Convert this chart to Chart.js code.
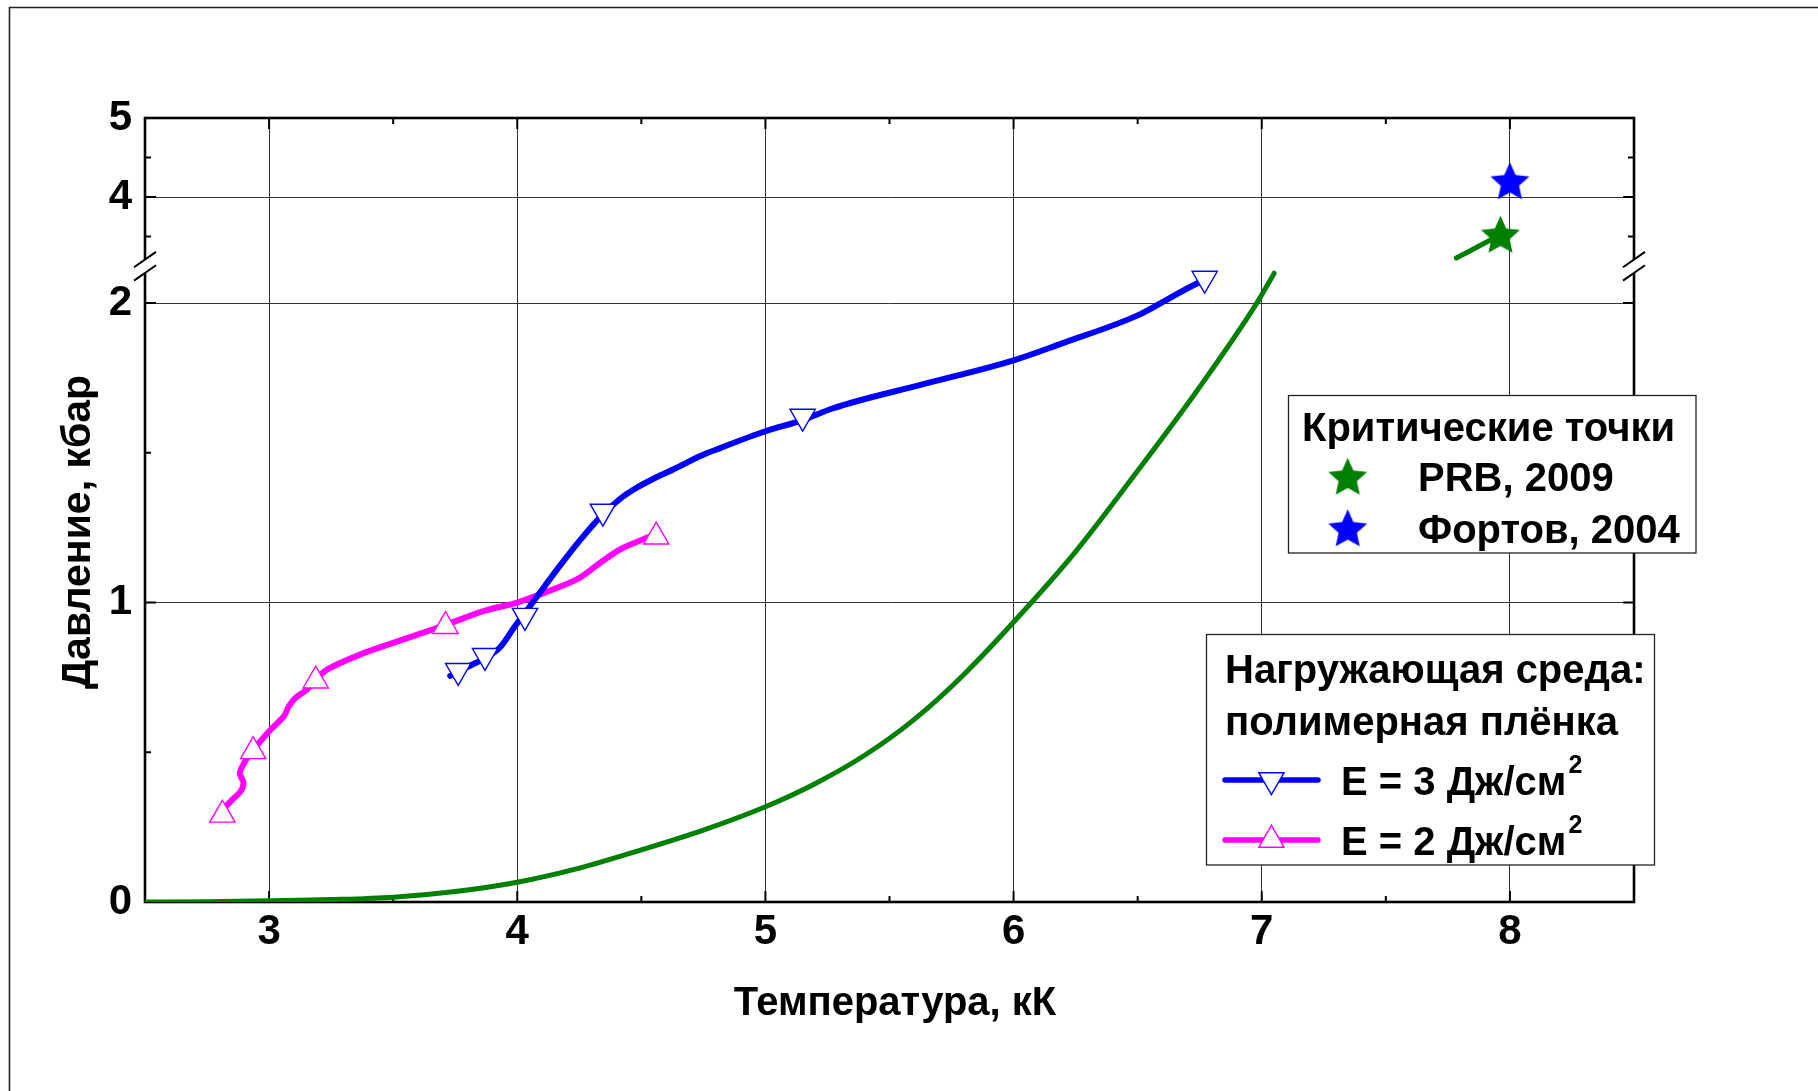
<!DOCTYPE html>
<html><head><meta charset="utf-8">
<script src="https://cdn.jsdelivr.net/npm/chart.js@4.4.1/dist/chart.umd.min.js"></script>
<style>html,body{margin:0;padding:0;background:#fff;}canvas{display:block;}</style>
</head><body>
<canvas id="c" width="1818" height="1091"></canvas>
<script>
// ---------- axis ticks / ranges ----------
const xTickValues = [3, 4, 5, 6, 7, 8];
const xMinorTicks = [3.5, 4.5, 5.5, 6.5, 7.5];
const xRange = [2.5, 8.5];
const yLowerTicks = [0, 1, 2];
const yLowerMinor = [0.5, 1.5];
const yLowerRange = [0, 2.123];
const yUpperTicks = [4, 5];
const yUpperMinor = [3.5, 4.5];
const yUpperRange = [3.124, 5];

const xTitle = 'Температура, кК';
const yTitle = 'Давление, кбар';

// ---------- data ----------
// binodal (green), lower segment
const binodalT = [2.5, 2.75, 3.0, 3.25, 3.5, 3.75, 4.0, 4.25, 4.5, 4.75, 5.0, 5.2, 5.4, 5.6, 5.8, 6.05, 6.25, 6.5, 6.75, 6.98, 7.05];
const binodalP = [0, 0.001, 0.004, 0.008, 0.016, 0.035, 0.066, 0.113, 0.174, 0.24, 0.318, 0.395, 0.49, 0.61, 0.76, 0.98, 1.17, 1.44, 1.72, 2.0, 2.1];
// binodal (green), upper segment near critical point
const binodalUpT = [7.784, 7.87, 7.962];
const binodalUpP = [3.228, 3.37, 3.523];

// E = 3 J/cm2 (blue)
const e3T = [3.73, 3.80, 3.87, 3.93, 3.99, 4.04, 4.08, 4.16, 4.255, 4.346, 4.42, 4.466, 4.577, 4.63, 4.74, 4.815, 5.0, 5.15, 5.27, 5.64, 6.0, 6.19, 6.5, 6.6, 6.735, 6.77];
const e3P = [0.755, 0.785, 0.815, 0.85, 0.92, 0.975, 1.02, 1.11, 1.21, 1.295, 1.35, 1.376, 1.425, 1.445, 1.49, 1.515, 1.572, 1.609, 1.648, 1.73, 1.809, 1.864, 1.959, 2.003, 2.064, 2.075];
const e3MarkT = [3.762, 3.87, 4.031, 4.345, 5.15, 6.77];
const e3MarkP = [0.772, 0.822, 0.956, 1.304, 1.621, 2.082];

// E = 2 J/cm2 (magenta)
const e2T = [2.815, 2.85, 2.886, 2.897, 2.882, 2.90, 2.926, 2.96, 3.007, 3.06, 3.08, 3.107, 3.154, 3.19, 3.235, 3.369, 3.503, 3.711, 3.866, 4.0, 4.094, 4.242, 4.336, 4.416, 4.51, 4.55];
const e2P = [0.31, 0.34, 0.37, 0.398, 0.43, 0.465, 0.498, 0.532, 0.576, 0.621, 0.654, 0.682, 0.71, 0.745, 0.777, 0.827, 0.866, 0.925, 0.972, 1.0, 1.028, 1.078, 1.134, 1.178, 1.212, 1.225];
const e2MarkT = [2.812, 2.936, 3.188, 3.711, 4.56];
const e2MarkP = [0.291, 0.503, 0.739, 0.921, 1.22];

// critical points
const critPrbT = [7.962], critPrbP = [3.523];
const critFortovT = [8.0], critFortovP = [4.20];

// legend texts
const legendCritTitle = 'Критические точки';
const legendCritLabels = ['PRB, 2009', 'Фортов, 2004'];
const legendMediumTitle = ['Нагружающая среда:', 'полимерная плёнка'];
const legendEnergyLabels = ['E = 3 Дж/см', 'E = 2 Дж/см'];
const legendSup = '2';

// ---------- styling ----------
const FONT = "'Liberation Sans', Arial, sans-serif";
const GREEN = '#008000', BLUE = '#0000ff', MAGENTA = '#ff00ff';
const pts = (xs, ys) => xs.map((x, i) => ({x, y: ys[i]}));

function makeStar(color, R) {
  const c = document.createElement('canvas');
  const s = Math.ceil(R * 2 + 4);
  c.width = s; c.height = s;
  const g = c.getContext('2d');
  g.fillStyle = color;
  g.beginPath();
  for (let i = 0; i < 10; i++) {
    const a = -Math.PI / 2 + i * Math.PI / 5;
    const r = i % 2 === 0 ? R : R * 0.47;
    const px = s / 2 + r * Math.cos(a), py = s / 2 + 1.5 + r * Math.sin(a);
    if (i === 0) g.moveTo(px, py); else g.lineTo(px, py);
  }
  g.closePath(); g.fill();
  return c;
}
const starGreen = makeStar(GREEN, 20.5);
const starBlue = makeStar(BLUE, 20.5);

const TRI_R = 14.6;
const triStyle = (rot) => ({pointStyle: 'triangle', radius: TRI_R, rotation: rot, borderWidth: 1.4});

const decor = {
  id: 'decor',
  beforeDraw(chart) {
    const ctx = chart.ctx;
    ctx.save();
    ctx.fillStyle = '#fff';
    ctx.fillRect(0, 0, chart.width, chart.height);
    ctx.strokeStyle = '#222'; ctx.lineWidth = 1.6;
    ctx.beginPath();
    ctx.moveTo(9.5, chart.height); ctx.lineTo(9.5, 7.5); ctx.lineTo(chart.width, 7.5);
    ctx.stroke();
    ctx.restore();
  },
  beforeDatasetsDraw(chart) {
    const ctx = chart.ctx;
    const {left, right, top, bottom} = chart.chartArea;
    const xs = chart.scales.x, yl = chart.scales.y, yu = chart.scales.y2;
    ctx.save();
    ctx.strokeStyle = '#000'; ctx.lineWidth = 2;
    ctx.beginPath();
    const vt = (v, len) => { const p = xs.getPixelForValue(v); ctx.moveTo(p, bottom); ctx.lineTo(p, bottom - len); ctx.moveTo(p, top); ctx.lineTo(p, top + len); };
    const ht = (sc, v, len) => { const p = sc.getPixelForValue(v); ctx.moveTo(left, p); ctx.lineTo(left + len, p); ctx.moveTo(right, p); ctx.lineTo(right - len, p); };
    xTickValues.forEach(v => vt(v, 11));
    xMinorTicks.forEach(v => vt(v, 6));
    yLowerTicks.forEach(v => ht(yl, v, 11));
    yLowerMinor.forEach(v => ht(yl, v, 6));
    yUpperTicks.forEach(v => ht(yu, v, 11));
    yUpperMinor.forEach(v => ht(yu, v, 6));
    ctx.stroke();
    ctx.lineWidth = 2.6;
    ctx.strokeRect(left, top, right - left, bottom - top);
    ctx.restore();
  },
  afterDraw(chart) {
    const ctx = chart.ctx;
    const {left, right} = chart.chartArea;
    const yl = chart.scales.y, yu = chart.scales.y2;
    ctx.save();
    // axis break marks
    const yb = (yl.top + yu.bottom) / 2;
    [left, right].forEach(x0 => {
      const d1 = -6.7, d2 = 6.7, k = 0.7, w = 11;
      ctx.fillStyle = '#fff';
      ctx.beginPath();
      ctx.moveTo(x0 - 4, yb + d1 + 4 * k); ctx.lineTo(x0 + 4, yb + d1 - 4 * k);
      ctx.lineTo(x0 + 4, yb + d2 - 4 * k); ctx.lineTo(x0 - 4, yb + d2 + 4 * k);
      ctx.closePath(); ctx.fill();
      ctx.strokeStyle = '#000'; ctx.lineWidth = 2;
      ctx.beginPath();
      [d1, d2].forEach(d => { ctx.moveTo(x0 - w, yb + d + w * k); ctx.lineTo(x0 + w, yb + d - w * k); });
      ctx.stroke();
    });
    // axis titles
    ctx.fillStyle = '#000';
    ctx.textAlign = 'center'; ctx.textBaseline = 'alphabetic';
    ctx.font = `bold 40px ${FONT}`;
    ctx.fillText(xTitle, 895, 1015);
    ctx.save();
    ctx.translate(90, 532); ctx.rotate(-Math.PI / 2);
    ctx.font = `bold 41px ${FONT}`;
    ctx.fillText(yTitle, 0, 0);
    ctx.restore();

    // legend 1: critical points
    ctx.fillStyle = '#fff'; ctx.strokeStyle = '#222'; ctx.lineWidth = 1.3;
    ctx.fillRect(1288.5, 395.5, 407.5, 157.5); ctx.strokeRect(1288.5, 395.5, 407.5, 157.5);
    ctx.fillStyle = '#000'; ctx.textAlign = 'left';
    ctx.font = `bold 40px ${FONT}`;
    ctx.fillText(legendCritTitle, 1302, 441);
    ctx.drawImage(starGreen, 1347.7 - starGreen.width / 2, 476.7 - starGreen.height / 2);
    ctx.drawImage(starBlue, 1347.7 - starBlue.width / 2, 528.3 - starBlue.height / 2);
    ctx.fillText(legendCritLabels[0], 1418, 491);
    ctx.fillText(legendCritLabels[1], 1418, 543);

    // legend 2: loading medium
    ctx.fillStyle = '#fff'; ctx.strokeStyle = '#222'; ctx.lineWidth = 1.3;
    ctx.fillRect(1206.5, 634.5, 448, 230.5); ctx.strokeRect(1206.5, 634.5, 448, 230.5);
    ctx.fillStyle = '#000';
    ctx.font = `bold 40px ${FONT}`;
    ctx.fillText(legendMediumTitle[0], 1225, 683);
    ctx.fillText(legendMediumTitle[1], 1225, 735);
    const rows = [{y: 780, color: BLUE, rot: 180, label: legendEnergyLabels[0]}, {y: 840, color: MAGENTA, rot: 0, label: legendEnergyLabels[1]}];
    rows.forEach(r => {
      ctx.strokeStyle = r.color; ctx.lineWidth = 5.5; ctx.lineCap = 'round';
      ctx.beginPath(); ctx.moveTo(1225, r.y); ctx.lineTo(1318, r.y); ctx.stroke();
      ctx.fillStyle = '#fff'; ctx.strokeStyle = r.color; ctx.lineWidth = 1.4;
      Chart.helpers.drawPoint(ctx, triStyle(r.rot), 1271.4, r.y);
      ctx.fillStyle = '#000';
      ctx.font = `bold 40px ${FONT}`;
      ctx.fillText(r.label, 1341, r.y + 15);
      const w = ctx.measureText(r.label).width;
      ctx.font = `bold 25px ${FONT}`;
      ctx.fillText(legendSup, 1341 + w + 2, r.y - 7);
    });
    ctx.restore();
  }
};

const tickFont = {family: FONT, size: 42, weight: 'bold'};
const gridOpt = {color: '#333', lineWidth: 1, drawTicks: false};

new Chart(document.getElementById('c'), {
  type: 'scatter',
  data: {
    datasets: [
      {label: 'E3 markers', data: pts(e3MarkT, e3MarkP), yAxisID: 'y', showLine: false, pointStyle: 'triangle', pointRotation: 180, pointRadius: TRI_R, pointHoverRadius: TRI_R, pointBorderWidth: 1.4, pointBorderColor: BLUE, pointBackgroundColor: '#fff', order: 0},
      {label: 'E2 markers', data: pts(e2MarkT, e2MarkP), yAxisID: 'y', showLine: false, pointStyle: 'triangle', pointRadius: TRI_R, pointHoverRadius: TRI_R, pointBorderWidth: 1.4, pointBorderColor: MAGENTA, pointBackgroundColor: '#fff', order: 0},
      {label: 'PRB 2009', data: pts(critPrbT, critPrbP), yAxisID: 'y2', showLine: false, pointStyle: starGreen, pointRadius: 20, order: 0},
      {label: 'Fortov 2004', data: pts(critFortovT, critFortovP), yAxisID: 'y2', showLine: false, pointStyle: starBlue, pointRadius: 20, order: 0},
      {label: 'E3', data: pts(e3T, e3P), yAxisID: 'y', showLine: true, pointRadius: 0, borderColor: BLUE, borderWidth: 6, cubicInterpolationMode: 'monotone', borderCapStyle: 'round', borderJoinStyle: 'round', order: 1},
      {label: 'E2', data: pts(e2T, e2P), yAxisID: 'y', showLine: true, pointRadius: 0, borderColor: MAGENTA, borderWidth: 6, tension: 0.3, borderCapStyle: 'round', borderJoinStyle: 'round', order: 1},
      {label: 'binodal', data: pts(binodalT, binodalP), yAxisID: 'y', showLine: true, pointRadius: 0, borderColor: GREEN, borderWidth: 5, cubicInterpolationMode: 'monotone', borderCapStyle: 'round', order: 2},
      {label: 'binodal upper', data: pts(binodalUpT, binodalUpP), yAxisID: 'y2', showLine: true, pointRadius: 0, borderColor: GREEN, borderWidth: 5, tension: 0.3, borderCapStyle: 'round', order: 2}
    ]
  },
  options: {
    responsive: false,
    animation: false,
    devicePixelRatio: 1,
    layout: {padding: {top: 118, right: 184, bottom: 0, left: 0}},
    plugins: {legend: {display: false}, tooltip: {enabled: false}},
    scales: {
      x: {
        type: 'linear', min: xRange[0], max: xRange[1],
        afterBuildTicks: s => { s.ticks = xTickValues.map(v => ({value: v})); },
        afterFit: s => { s.height = 189; },
        grid: gridOpt, border: {display: false},
        ticks: {font: tickFont, color: '#000', padding: 5, autoSkip: false, maxRotation: 0, callback: v => String(v)}
      },
      y: {
        type: 'linear', position: 'left', stack: 'p', stackWeight: 4.288,
        min: yLowerRange[0], max: yLowerRange[1],
        afterBuildTicks: s => { s.ticks = yLowerTicks.map(v => ({value: v})); },
        afterFit: s => { s.width = 145; },
        grid: gridOpt, border: {display: false},
        ticks: {font: tickFont, color: '#000', padding: 13, autoSkip: false, callback: v => String(v)}
      },
      y2: {
        type: 'linear', position: 'left', stack: 'p', stackWeight: 1,
        min: yUpperRange[0], max: yUpperRange[1],
        afterBuildTicks: s => { s.ticks = yUpperTicks.map(v => ({value: v})); },
        afterFit: s => { s.width = 145; },
        grid: gridOpt, border: {display: false},
        ticks: {font: tickFont, color: '#000', padding: 13, autoSkip: false, callback: v => String(v)}
      }
    }
  },
  plugins: [decor]
});
</script>
</body></html>
